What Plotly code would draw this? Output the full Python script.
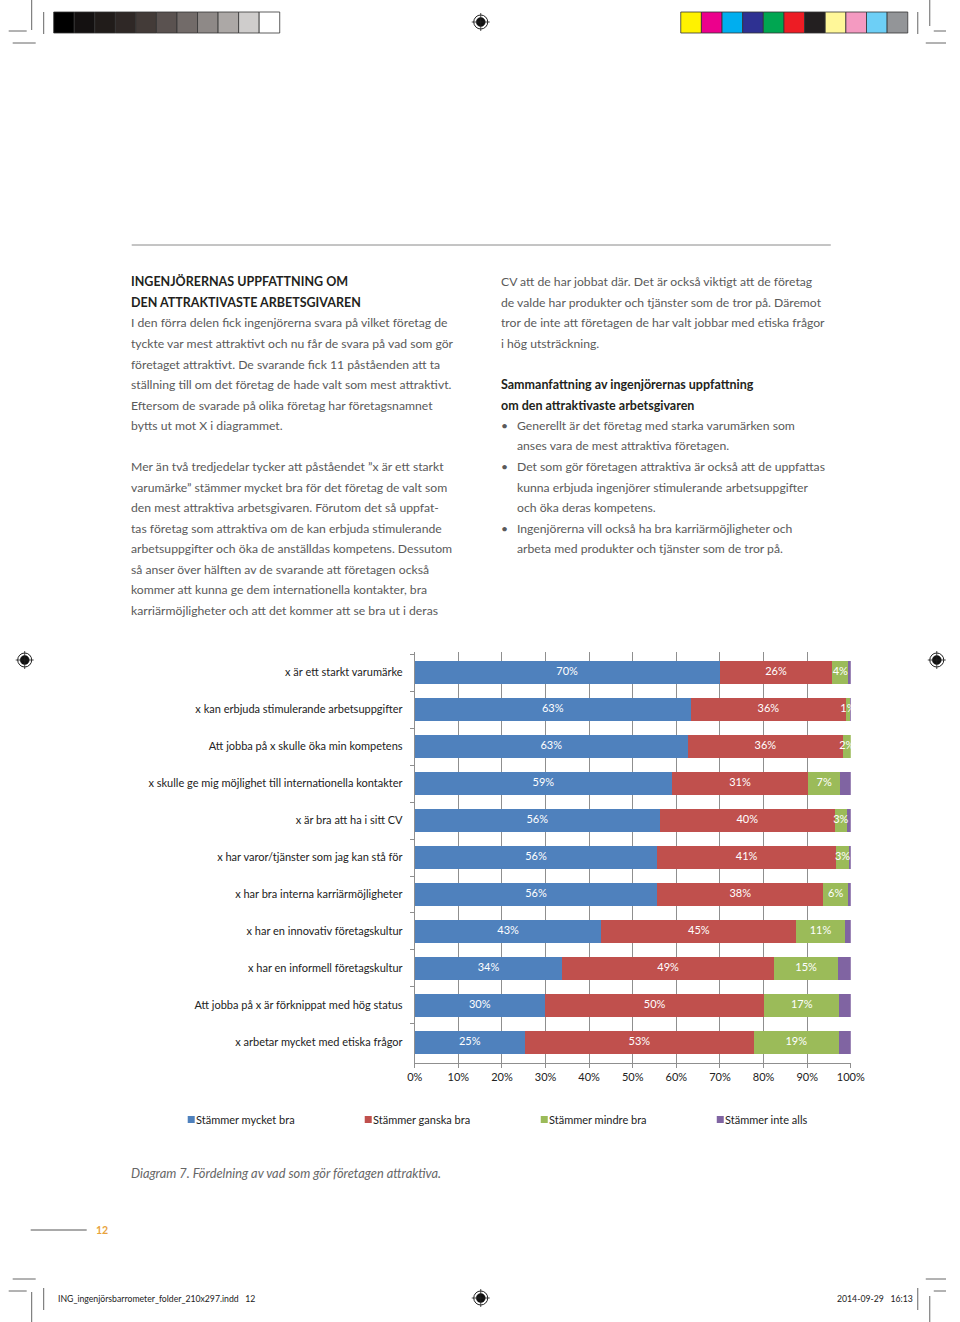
import plotly.graph_objects as go

W, H = 960, 1322

categories = [
    "x är ett starkt varumärke",
    "x kan erbjuda stimulerande arbetsuppgifter",
    "Att jobba på x skulle öka min kompetens",
    "x skulle ge mig möjlighet till internationella kontakter",
    "x är bra att ha i sitt CV",
    "x har varor/tjänster som jag kan stå för",
    "x har bra interna karriärmöjligheter",
    "x har en innovativ företagskultur",
    "x har en informell företagskultur",
    "Att jobba på x är förknippat med hög status",
    "x arbetar mycket med etiska frågor",
]
series_names = ["Stämmer mycket bra", "Stämmer ganska bra", "Stämmer mindre bra", "Stämmer inte alls"]
mycket_bra = [69.9, 63.3, 62.6, 59.0, 56.2, 55.6, 55.6, 42.8, 33.8, 29.8, 25.2]
ganska_bra = [25.9, 35.6, 35.6, 31.2, 40.1, 41.0, 38.1, 44.7, 48.6, 50.4, 52.6]
mindre_bra = [3.6, 0.9, 1.8, 7.4, 2.8, 3.0, 5.7, 11.1, 14.7, 17.1, 19.4]
inte_alls = [0.6, 0.2, 0.0, 2.4, 0.9, 0.4, 0.6, 1.4, 2.9, 2.7, 2.8]
x_ticks = [0, 10, 20, 30, 40, 50, 60, 70, 80, 90, 100]
x_ticktext = ["0%", "10%", "20%", "30%", "40%", "50%", "60%", "70%", "80%", "90%", "100%"]
colors = ["#4F81BD", "#C0504D", "#9BBB59", "#8064A2"]
labelled = [True, True, True, False]

series = [mycket_bra, ganska_bra, mindre_bra, inte_alls]

FONT = "Lato"

# horizontal placement correction observed for this page in the viewer
SX, OX = 0.977, 7.3


def X(x):
    return min(max((x - OX) / SX, 0.0), W)


def px(x, y):
    return X(x) / W, 1 - y / H


fig = go.Figure()
for name, vals, col in zip(series_names, series, colors):
    fig.add_trace(go.Bar(
        y=categories, x=vals, name=name, orientation="h",
        marker=dict(color=col, line=dict(width=0)),
        hoverinfo="x+y+name", showlegend=False,
    ))

cum = [0.0] * len(categories)
for vals, show in zip(series, labelled):
    mids = [c + v / 2 for c, v in zip(cum, vals)]
    if show:
        fig.add_trace(go.Scatter(
            y=categories, x=mids, mode="text",
            text=[f"{round(v)}%" for v in vals],
            textfont=dict(family=FONT, size=11, color="white"),
            showlegend=False, hoverinfo="skip", cliponaxis=True,
        ))
    cum = [c + v for c, v in zip(cum, vals)]

x0, x1 = 414, 850
ytop, ybot = 652, 1063
fig.update_layout(
    width=W, height=H, autosize=False,
    margin=dict(l=0, r=0, t=0, b=0),
    paper_bgcolor="white", plot_bgcolor="white",
    barmode="stack", bargap=0.4,
    showlegend=False,
    xaxis=dict(domain=[X(x0) / W, X(x1) / W], range=[0, 100],
               tickvals=x_ticks, ticktext=x_ticktext,
               showgrid=True, gridcolor="#8f8f8f", gridwidth=1,
               showline=True, linecolor="#8f8f8f", linewidth=1,
               ticks="outside", ticklen=4, tickcolor="#8f8f8f",
               zeroline=False,
               tickfont=dict(family=FONT, size=11, color="#222"),
               fixedrange=True),
    yaxis=dict(domain=[1 - ybot / H, 1 - ytop / H],
               categoryorder="array", categoryarray=categories,
               autorange="reversed",
               showline=True, linecolor="#8f8f8f", linewidth=1,
               ticks="outside", ticklen=4, tickcolor="#8f8f8f",
               tickson="boundaries", ticklabelstandoff=9,
               tickfont=dict(family=FONT, size=11, color="#222"),
               fixedrange=True),
)

ann = []
body_font = dict(family=FONT, size=12.2, color="#5a5a5a")
head_font = dict(family=FONT, size=12.5, color="#231f20")
TX = -2.7  # annotation inner padding


def line(x, y, text, font, xanchor="left", **kw):
    ax, ay = px(x, y)
    ann.append(dict(x=ax + (TX if xanchor == "left" else -TX) / W, y=ay,
                    xref="paper", yref="paper", text=text,
                    showarrow=False, xanchor=xanchor, yanchor="middle",
                    font=font, **kw))


left_head = ["<b>INGENJÖRERNAS UPPFATTNING OM</b>", "<b>DEN ATTRAKTIVASTE ARBETSGIVAREN</b>"]
left_body1 = [
    "I den förra delen fick ingenjörerna svara på vilket företag de",
    "tyckte var mest attraktivt och nu får de svara på vad som gör",
    "företaget attraktivt. De svarande fick 11 påståenden att ta",
    "ställning till om det företag de hade valt som mest attraktivt.",
    "Eftersom de svarade på olika företag har företagsnamnet",
    "bytts ut mot X i diagrammet.",
]
left_body2 = [
    "Mer än två tredjedelar tycker att påståendet ”x är ett starkt",
    "varumärke” stämmer mycket bra för det företag de valt som",
    "den mest attraktiva arbetsgivaren. Förutom det så uppfat-",
    "tas företag som attraktiva om de kan erbjuda stimulerande",
    "arbetsuppgifter och öka de anställdas kompetens. Dessutom",
    "så anser över hälften av de svarande att företagen också",
    "kommer att kunna ge dem internationella kontakter, bra",
    "karriärmöjligheter och att det kommer att se bra ut i deras",
]
right_body = [
    "CV att de har jobbat där. Det är också viktigt att de företag",
    "de valde har produkter och tjänster som de tror på. Däremot",
    "tror de inte att företagen de har valt jobbar med etiska frågor",
    "i hög utsträckning.",
]
right_head = ["<b>Sammanfattning av ingenjörernas uppfattning</b>",
              "<b>om den attraktivaste arbetsgivaren</b>"]
bullets = [
    ["Generellt är det företag med starka varumärken som",
     "anses vara de mest attraktiva företagen."],
    ["Det som gör företagen attraktiva är också att de uppfattas",
     "kunna erbjuda ingenjörer stimulerande arbetsuppgifter",
     "och öka deras kompetens."],
    ["Ingenjörerna vill också ha bra karriärmöjligheter och",
     "arbeta med produkter och tjänster som de tror på."],
]

LS = 20.5
y = 282
for t in left_head:
    line(131, y, t, head_font); y += LS
for t in left_body1:
    line(131, y, t, body_font); y += LS
y += LS
for t in left_body2:
    line(131, y, t, body_font); y += LS

y = 282
for t in right_body:
    line(501, y, t, body_font); y += LS
y += LS
for t in right_head:
    line(501, y, t, head_font); y += LS
for b in bullets:
    line(501, y, "•", body_font)
    for t in b:
        line(517, y, t, body_font); y += LS

line(131, 1173, "<i>Diagram 7. Fördelning av vad som gör företagen attraktiva.</i>",
     dict(family=FONT, size=12.8, color="#666"))
line(96, 1230, "<b>12</b>", dict(family=FONT, size=10.5, color="#E8A33D"))
line(58, 1298, "ING_ingenjörsbarrometer_folder_210x297.indd   12",
     dict(family=FONT, size=8.7, color="#222"))
line(912, 1298, "2014-09-29   16:13",
     dict(family=FONT, size=8.7, color="#222"), xanchor="right")

shapes = []


def seg(xa, ya, xb, yb, color="#777", width=1):
    a = px(xa, ya); b = px(xb, yb)
    shapes.append(dict(type="line", xref="paper", yref="paper",
                       x0=a[0], y0=a[1], x1=b[0], y1=b[1],
                       line=dict(color=color, width=width)))


def rect(xa, ya, xb, yb, fill, lc="#333", lw=0.8):
    a = px(xa, ya); b = px(xb, yb)
    shapes.append(dict(type="rect", xref="paper", yref="paper",
                       x0=a[0], y0=a[1], x1=b[0], y1=b[1],
                       fillcolor=fill, line=dict(color=lc, width=lw)))


def circle(cx, cy, r, fill, lc, lw=1):
    a = px(cx - r, cy - r); b = px(cx + r, cy + r)
    shapes.append(dict(type="circle", xref="paper", yref="paper",
                       x0=a[0], y0=a[1], x1=b[0], y1=b[1],
                       fillcolor=fill, line=dict(color=lc, width=lw)))


# legend (series names and colours)
legend_x = [187, 364, 540, 716]
for lx, name, col in zip(legend_x, series_names, colors):
    rect(lx, 1116, lx + 7, 1123, col, col, 0)
    line(lx + 9, 1119.5, name, dict(family=FONT, size=11, color="#222"))

seg(131, 245, 830, 245, "#8a8a8a", 1)
seg(30, 1230, 86, 1230, "#555", 1)

grays = ["#000000", "#141111", "#211c1a", "#2f2826", "#433b38", "#5a5250",
         "#726b69", "#8e8987", "#aca8a6", "#cfcdcc", "#ffffff"]
sw = (279 - 53) / len(grays)
for i, g in enumerate(grays):
    rect(53 + i * sw, 12, 53 + (i + 1) * sw, 33, g)
cols = ["#fff200", "#ec008c", "#00aeef", "#2e3192", "#00a651", "#ed1c24",
        "#231f20", "#fff799", "#f49ac1", "#6dcff6", "#939598"]
sw = (907 - 680) / len(cols)
for i, c in enumerate(cols):
    rect(680 + i * sw, 12, 680 + (i + 1) * sw, 33, c)

for (xa, ya, xb, yb) in [(31, 0, 31, 30), (8, 31, 26, 31), (12, 43, 35, 43), (43, 12, 43, 34),
                         (929, 0, 929, 26), (933, 31, 952, 31), (925, 43, 948, 43), (917, 12, 917, 34),
                         (31, 1292, 31, 1322), (8, 1291, 26, 1291), (12, 1279, 35, 1279), (43, 1288, 43, 1310),
                         (929, 1296, 929, 1322), (933, 1291, 952, 1291), (925, 1279, 948, 1279), (917, 1288, 917, 1310)]:
    seg(xa, ya, xb, yb, "#666", 1)

for (cx, cy) in [(480, 22), (480, 1298), (24, 660), (936, 660)]:
    circle(cx, cy, 7, "white", "#222", 1)
    circle(cx, cy, 4.5, "#111", "#111", 0.5)
    seg(cx - 9, cy, cx + 9, cy, "#222", 0.8)
    seg(cx, cy - 9, cx, cy + 9, "#222", 0.8)

fig.update_layout(annotations=ann, shapes=shapes)

fig.write_html("out.html", config={"displayModeBar": False, "responsive": False},
               post_script="document.body.style.margin='0';document.body.style.overflow='hidden';")
